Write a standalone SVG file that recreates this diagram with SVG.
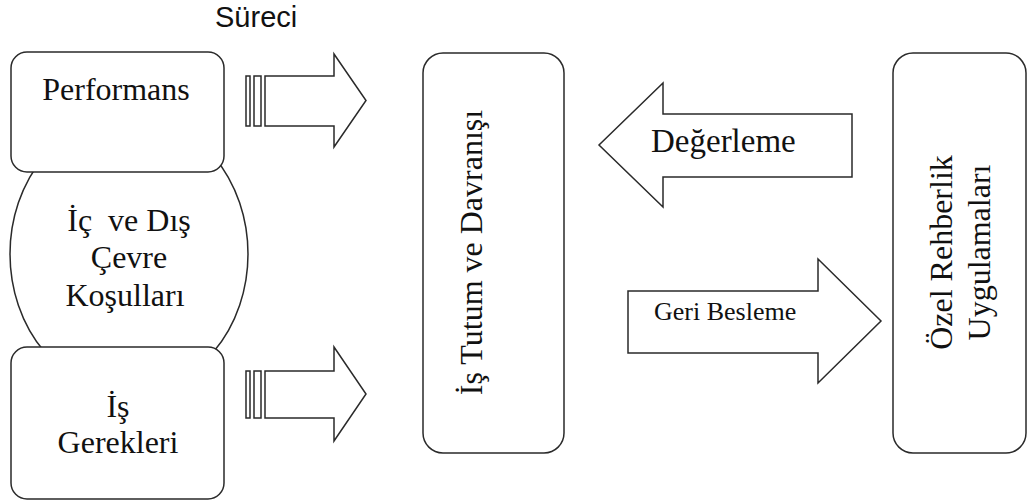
<svg xmlns="http://www.w3.org/2000/svg" width="1029" height="503" viewBox="0 0 1029 503">
  <style>
    .shape { fill: #ffffff; stroke: #2a2a2a; stroke-width: 1.5; }
    .label { font-family: "Liberation Serif", "Times New Roman", serif; font-size: 32px; fill: #111111; }
    .title { font-family: "Liberation Sans", Arial, sans-serif; font-size: 29px; fill: #111111; }
    .mid { text-anchor: middle; }
  </style>
  <rect width="1029" height="503" fill="#ffffff"/>

  <text class="title" x="215" y="27">Süreci</text>

  <!-- environment conditions ellipse sits behind the two left boxes -->
  <g id="node-cevre">
    <ellipse class="shape" cx="129" cy="254" rx="119" ry="139"/>
    <text class="label mid" x="129" y="231" style="white-space:pre">İç  ve Dış</text>
    <text class="label mid" x="129" y="268">Çevre</text>
    <text class="label mid" x="125" y="306">Koşulları</text>
  </g>

  <g id="node-performans">
    <rect class="shape" x="11" y="52" width="213" height="120" rx="16"/>
    <text class="label mid" x="116" y="100">Performans</text>
  </g>

  <g id="node-is-gerekleri">
    <rect class="shape" x="11" y="347" width="213" height="152" rx="16"/>
    <text class="label mid" x="118" y="417">İş</text>
    <text class="label mid" x="118" y="453">Gerekleri</text>
  </g>

  <g id="node-tutum">
    <rect class="shape" x="423" y="53" width="141" height="400" rx="20"/>
    <text class="label mid" transform="translate(482 252.5) rotate(-90)">İş Tutum ve Davranışı</text>
  </g>

  <g id="node-rehberlik">
    <rect class="shape" x="893" y="53" width="133" height="400" rx="20"/>
    <text class="label mid" transform="translate(952 252.5) rotate(-90)">Özel Rehberlik</text>
    <text class="label mid" transform="translate(990 252.5) rotate(-90)">Uygulamaları</text>
  </g>

  <!-- block arrows linking the nodes -->
  <g id="connectors">
    <g id="arrow-performans">
      <rect class="shape" x="246" y="76" width="4" height="50"/>
      <rect class="shape" x="254" y="76" width="7" height="50"/>
      <path class="shape" d="M265,76 H334 V54 L366,100.5 L334,147 V126 H265 Z"/>
    </g>
    <g id="arrow-gerekler">
      <rect class="shape" x="246" y="371" width="4" height="47"/>
      <rect class="shape" x="254" y="371" width="7" height="47"/>
      <path class="shape" d="M265,371 H334 V347 L366,394 L334,441 V418 H265 Z"/>
    </g>
    <g id="arrow-degerleme">
      <path class="shape" d="M852,114 H663 V83 L599,145 L663,207 V177 H852 Z"/>
      <text class="label" x="651" y="152" style="font-size:33px">Değerleme</text>
    </g>
    <g id="arrow-geri-besleme">
      <path class="shape" d="M628,291 H818 V259 L881,321 L818,383 V353 H628 Z"/>
      <text class="label" x="654" y="320" style="font-size:26px">Geri Besleme</text>
    </g>
  </g>
</svg>
